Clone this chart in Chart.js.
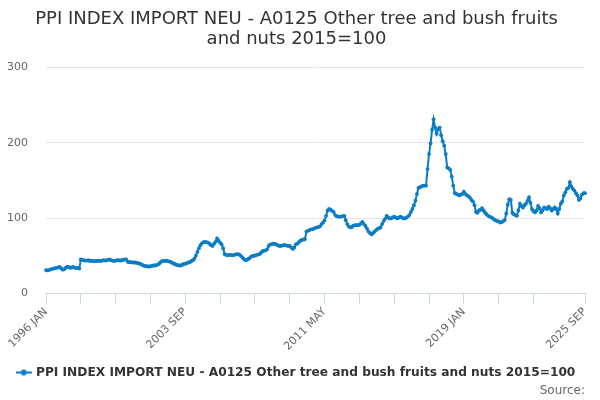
<!DOCTYPE html>
<html>
<head>
<meta charset="utf-8">
<script src="https://cdn.jsdelivr.net/npm/chart.js@4/dist/chart.umd.min.js"></script>
<style>
  html, body { margin: 0; padding: 0; background: #fff; }
  #wrap { width: 600px; height: 400px; position: relative; }
</style>
</head>
<body>
<div id="wrap"><canvas id="ppi-chart"></canvas></div>
<script>
// series + categories
const TITLE = ['PPI INDEX IMPORT NEU - A0125 Other tree and bush fruits', 'and nuts 2015=100'];
const SERIES_LABEL = 'PPI INDEX IMPORT NEU - A0125 Other tree and bush fruits and nuts 2015=100';
const MONTHS = ['JAN', 'FEB', 'MAR', 'APR', 'MAY', 'JUN', 'JUL', 'AUG', 'SEP', 'OCT', 'NOV', 'DEC'];
const START_YEAR = 1996;
const Y_TICKS = [0, 100, 200, 300];

// monthly values, one row per year (1996 JAN .. 2025 SEP)
const VALUES = [
    31, 30.5, 31, 32, 32.5, 33, 33.5, 34, 34.5, 35, 33.5, 31.5,
    32, 34, 35.5, 35, 34, 34.5, 35, 34, 33.5, 34, 33, 45,
    44.5, 44, 43.5, 43.5, 44, 43, 43.5, 43, 42.5, 43, 43, 43.5,
    43, 43.5, 44, 43.5, 44, 44.5, 45, 44, 43.5, 43, 43.5, 44,
    44, 43.5, 44, 44.5, 45, 45, 42, 41.5, 41.5, 41, 41, 41,
    40.5, 40, 39.5, 38.5, 37.5, 36.5, 36, 36, 35.5, 36, 36.5, 37,
    37, 37.5, 38.5, 40, 42, 43, 43, 43.5, 43, 42.5, 42, 41,
    40, 39, 38, 37.5, 37, 37, 38, 39, 39.5, 40, 41, 41.5,
    43, 44, 46, 50, 55, 60, 64, 66.5, 68, 68.5, 68, 67.5,
    66, 64, 63, 66, 68.5, 73, 70, 67.5, 65, 60, 52, 51,
    50.5, 51, 51, 50.5, 51, 51.5, 52, 52, 51, 49, 47, 45,
    44, 45, 46, 48, 49.5, 50, 50, 51, 51.5, 52, 54, 56,
    56.5, 57, 58.5, 63, 65, 65, 66, 66, 65, 64, 63, 63,
    63.5, 64, 64, 63.5, 63, 63, 61, 59, 61, 65, 66, 68,
    70, 71, 71.5, 72, 82, 83, 84, 85, 85, 86, 87, 87.5,
    88, 89, 92, 94, 97, 103, 110, 112, 111, 109.5, 108, 104,
    102.5, 102, 102, 102, 102.5, 103, 97, 92, 89, 87.5, 88, 90,
    90.5, 90.5, 90.5, 91, 93, 95, 92, 89.5, 86, 82, 80, 78.5,
    80, 82, 84, 85.5, 86.5, 87.5, 92, 96, 99, 103, 101, 99.5,
    99.5, 101, 102, 100.5, 99.5, 100.5, 102, 101, 99.5, 99.5, 100.5, 102,
    104, 108, 112, 117, 123, 132, 140, 141, 142, 143, 143, 143,
    165, 185, 199, 217, 231, 220, 212, 218, 220, 210, 202, 196,
    185, 167, 166, 164, 155, 143, 133, 132, 131, 130, 131, 132,
    135, 132, 130, 129, 127, 124, 122, 117, 108, 107, 110, 111,
    113, 110, 107, 105, 103, 102, 101, 100, 98, 97, 96, 95.5,
    94, 94.5, 96, 97.5, 106, 118, 125, 124, 107, 105, 104, 103,
    110, 119, 116, 114, 117, 119, 123, 127.5, 120, 112, 109, 107.5,
    110, 116, 113, 107.5, 110, 114, 113, 112, 115, 113, 110, 112,
    114, 112, 106, 112, 119, 122, 130, 134, 138.6, 140, 147.5, 142,
    138.6, 136.4, 133, 130, 124, 126, 131, 133, 133
];

const LABELS = VALUES.map((v, i) => (START_YEAR + Math.floor(i / 12)) + ' ' + MONTHS[i % 12]);

const LINE_COLOR = '#0b7dc4';
const FONT = 'DejaVu Sans';

function legendMarker() {
    const c = document.createElement('canvas');
    c.width = 16;
    c.height = 8;
    const g = c.getContext('2d');
    g.strokeStyle = LINE_COLOR;
    g.lineWidth = 2;
    g.beginPath();
    g.moveTo(0, 4);
    g.lineTo(16, 4);
    g.stroke();
    g.fillStyle = LINE_COLOR;
    g.beginPath();
    g.arc(8, 4, 3, 0, Math.PI * 2);
    g.fill();
    return c;
}

// ticks every 23 months, labels every 92 months plus the last month
function xTick(value, index) {
    const last = LABELS.length - 1;
    if (index === 0 || index === last || (index % 92 === 0)) return LABELS[index];
    if (index % 23 === 0 && index < 340) return '';
    return null;
}

const marker = legendMarker();

new Chart(document.getElementById('ppi-chart'), {
    type: 'line',
    data: {
        labels: LABELS,
        datasets: [{
            label: SERIES_LABEL,
            data: VALUES,
            borderColor: LINE_COLOR,
            backgroundColor: LINE_COLOR,
            borderWidth: 2,
            pointRadius: 1.9,
            pointBorderWidth: 0,
            pointBackgroundColor: LINE_COLOR,
            tension: 0
        }]
    },
    options: {
        responsive: true,
        maintainAspectRatio: false,
        animation: false,
        layout: { padding: { left: 8, right: 15, top: 6, bottom: 0 } },
        plugins: {
            title: {
                display: true,
                text: TITLE,
                color: '#333',
                font: { family: FONT, size: 18, weight: 'normal', lineHeight: 1.12 },
                padding: { top: 3, bottom: 18 }
            },
            subtitle: {
                display: true,
                text: 'Source:',
                position: 'bottom',
                align: 'end',
                color: '#666',
                font: { family: FONT, size: 12, weight: 'normal' },
                padding: { top: -5, bottom: 2 }
            },
            legend: {
                position: 'bottom',
                labels: {
                    usePointStyle: true,
                    color: '#333',
                    font: { family: FONT, size: 12.2, weight: 'bold' },
                    padding: 6,
                    generateLabels: chart => Chart.defaults.plugins.legend.labels.generateLabels(chart)
                        .map(l => Object.assign(l, { pointStyle: marker }))
                }
            },
            tooltip: { enabled: false }
        },
        scales: {
            x: {
                type: 'category',
                afterFit: s => { s.height = 67; },
                grid: { drawOnChartArea: false, color: '#ccd6eb', tickLength: 10 },
                border: { color: '#ccd6eb', width: 1 },
                ticks: {
                    autoSkip: false,
                    minRotation: 45,
                    maxRotation: 45,
                    color: '#666',
                    font: { family: FONT, size: 11 },
                    padding: 2,
                    callback: xTick
                }
            },
            y: {
                min: 0,
                max: 300,
                afterFit: s => { s.width = 38; },
                afterBuildTicks: s => { s.ticks = Y_TICKS.map(v => ({ value: v })); },
                grid: { color: '#e6e6e6', drawTicks: false },
                border: { display: false },
                ticks: {
                    color: '#666',
                    font: { family: FONT, size: 11 },
                    padding: 18
                }
            }
        }
    }
});
</script>
</body>
</html>
